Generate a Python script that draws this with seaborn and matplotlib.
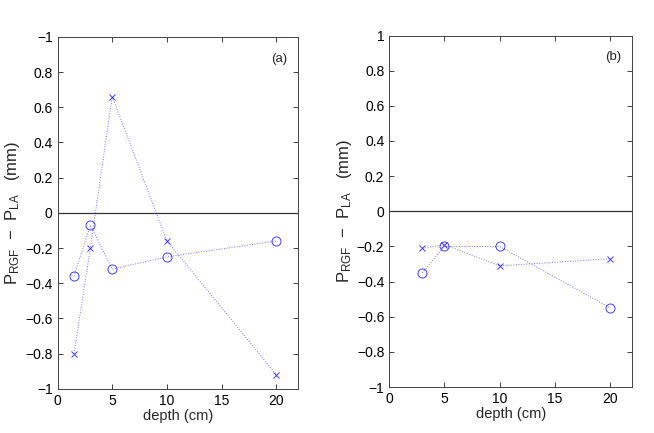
import seaborn as sns
import matplotlib.pyplot as plt
import pandas as pd

# panel (a)
depth_a = [1.5, 3, 5, 10, 20]
circ_a = [-0.36, -0.07, -0.32, -0.25, -0.16]
cross_a = [-0.80, -0.20, 0.66, -0.16, -0.92]

# panel (b)
depth_b = [3, 5, 10, 20]
circ_b = [-0.35, -0.20, -0.20, -0.55]
cross_b = [-0.21, -0.19, -0.31, -0.27]

yticks = [-1, -0.8, -0.6, -0.4, -0.2, 0, 0.2, 0.4, 0.6, 0.8, 1]
ylabels_a = ['\u22121', '\u22120.8', '\u22120.6', '\u22120.4', '\u22120.2', '0',
             '0.2', '0.4', '0.6', '0.8', '\u22121']
ylabels_b = ['\u22121', '\u22120.8', '\u22120.6', '\u22120.4', '\u22120.2', '0',
             '0.2', '0.4', '0.6', '0.8', '1']
xticks = [0, 5, 10, 15, 20]

sns.set_style('ticks')
plt.rcParams['font.family'] = ['Liberation Sans', 'DejaVu Sans']
plt.rcParams['mathtext.fontset'] = 'custom'
plt.rcParams['mathtext.rm'] = 'Liberation Sans'
plt.rcParams['mathtext.it'] = 'Liberation Sans'

fig = plt.figure(figsize=(6.54, 4.33), dpi=100)
ax_a = fig.add_axes([0.088, 0.102, 0.368, 0.813])
ax_b = fig.add_axes([0.595, 0.106, 0.372, 0.812])

blue = '#0000ff'
ylab = 'P$_{\\mathrm{RGF}}$  \u2212  P$_{\\mathrm{LA}}$   (mm)'


def draw_panel(ax, depth, circ, cross, ylabels, tag):
    df = pd.DataFrame({'depth': depth, 'circ': circ, 'cross': cross})
    ax.axhline(0, color='#333333', lw=0.9, zorder=1)
    for col, mk, ms in [('circ', 'o', 6.5), ('cross', 'x', 4)]:
        sns.lineplot(data=df, x='depth', y=col, ax=ax, color=blue, lw=0.7,
                     linestyle=':', alpha=0.55, sort=False, estimator=None)
        ax.plot(df['depth'], df[col], linestyle='none', marker=mk, ms=ms,
                mfc='none', mec=blue, mew=0.7, alpha=0.75)
    ax.set_xlim(0, 22)
    ax.set_ylim(-1, 1)
    ax.set_xticks(xticks)
    ax.set_yticks(yticks)
    ax.set_yticklabels(ylabels)
    ax.tick_params(direction='in', top=True, right=True, length=3.5,
                   width=0.6, labelsize=10, colors='#222222', labelcolor='black')
    for s in ax.spines.values():
        s.set_linewidth(0.7)
        s.set_color('#444444')
    ax.set_xlabel('depth (cm)', fontsize=10.5, labelpad=1)
    ax.set_ylabel(ylab, fontsize=12, labelpad=2)
    ax.text(0.955, 0.955, tag, transform=ax.transAxes, ha='right', va='top',
            fontsize=9.5)


draw_panel(ax_a, depth_a, circ_a, cross_a, ylabels_a, '(a)')
draw_panel(ax_b, depth_b, circ_b, cross_b, ylabels_b, '(b)')

fig.savefig('out.png', dpi=100)
